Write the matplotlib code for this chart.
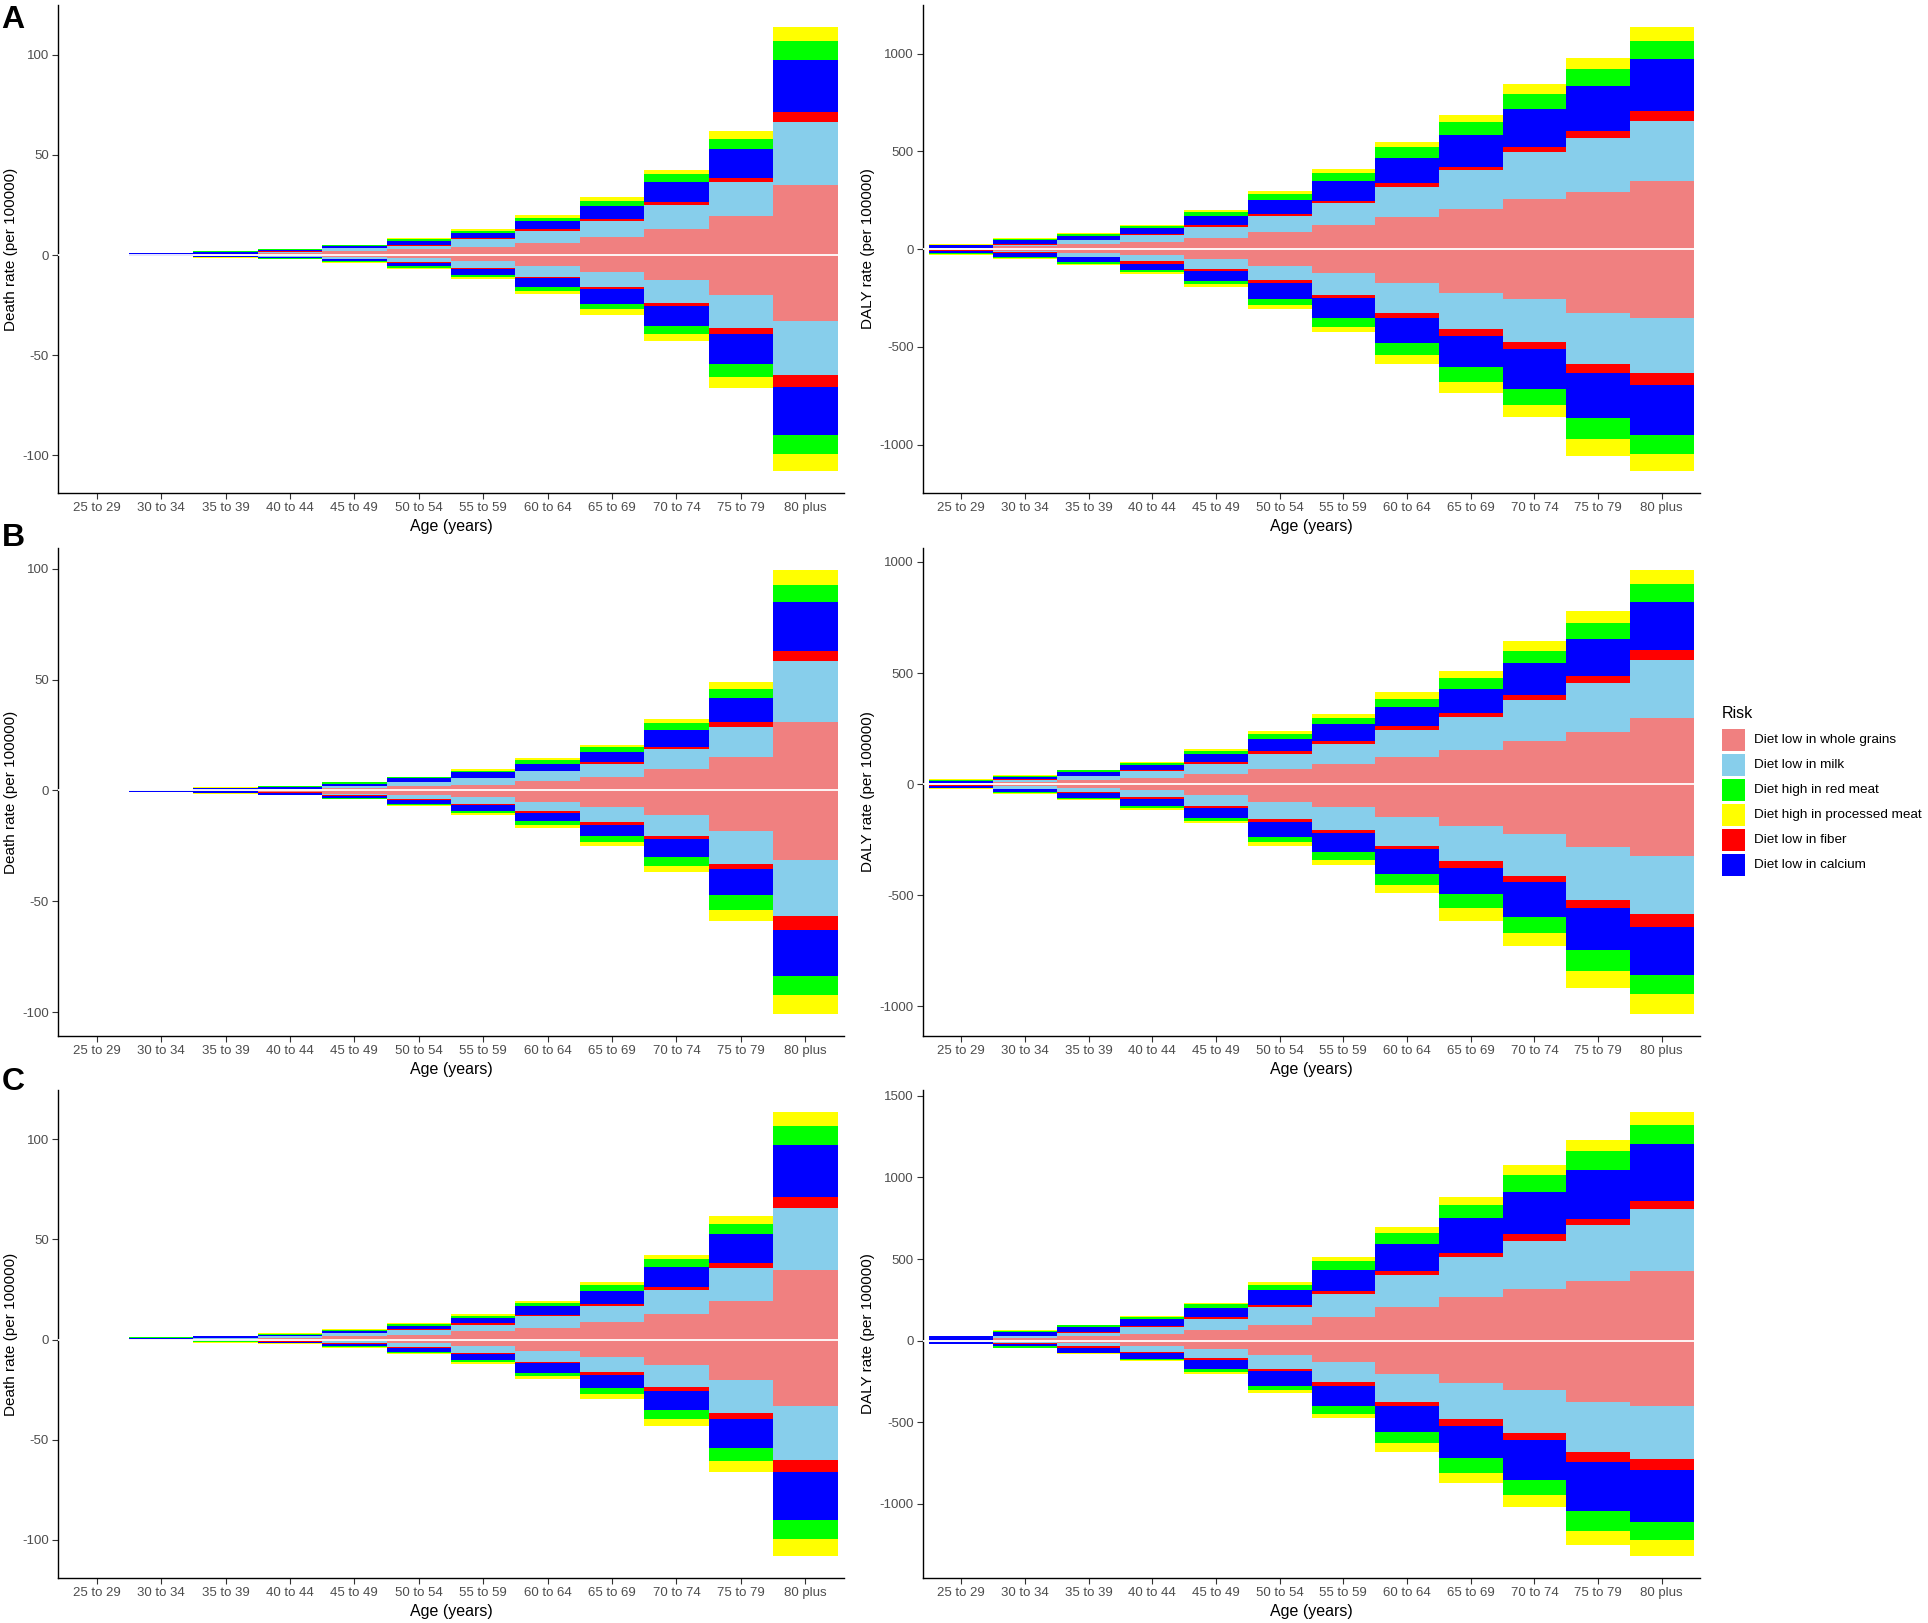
import matplotlib
matplotlib.use('Agg')
import matplotlib.pyplot as plt
from matplotlib.patches import Rectangle
import numpy as np

ages = ['25 to 29', '30 to 34', '35 to 39', '40 to 44', '45 to 49', '50 to 54',
        '55 to 59', '60 to 64', '65 to 69', '70 to 74', '75 to 79', '80 plus']

WG = 'Diet low in whole grains'
MILK = 'Diet low in milk'
FIB = 'Diet low in fiber'
CAL = 'Diet low in calcium'
RED = 'Diet high in red meat'
PROC = 'Diet high in processed meat'

# stacking order from the zero line outwards
stack_order = [WG, MILK, FIB, CAL, RED, PROC]
legend_order = [WG, MILK, RED, PROC, FIB, CAL]
colors = {WG: '#F08080', MILK: '#87CEEB', RED: '#00FF00',
          PROC: '#FFFF00', FIB: '#FF0000', CAL: '#0000FF'}

# ---- A: death rate ----
death_a_pos = {
    WG:   [0, 0.05, 0.3, 1.0, 1.9, 2.8, 4.1, 6.0, 8.8, 13.1, 19.3, 34.8],
    MILK: [0, 0.05, 0.3, 0.7, 1.4, 1.9, 3.7, 6.1, 8.1, 11.7, 17.1, 31.6],
    FIB:  [0, 0.05, 0.1, 0.1, 0.1, 0.3, 0.6, 0.7, 1.2, 1.9, 2.0, 5.2],
    CAL:  [0, 0.75, 0.9, 0.6, 0.9, 2.1, 2.6, 4.3, 6.6, 9.9, 14.5, 25.8],
    RED:  [0, 0.1, 0.2, 0.4, 0.5, 0.8, 1.1, 1.5, 2.5, 3.9, 5.2, 9.3],
    PROC: [0, 0.05, 0.1, 0.2, 0.4, 0.5, 1.0, 1.2, 1.8, 2.1, 3.8, 7.1],
}
death_a_neg = {
    WG:   [0, 0.05, 0.1, 0.4, 0.9, 1.6, 2.9, 5.3, 8.6, 12.4, 20.2, 33.1],
    MILK: [0, 0.05, 0.2, 0.5, 1.0, 2.0, 3.5, 5.6, 7.4, 11.4, 16.4, 26.9],
    FIB:  [0, 0.05, 0.1, 0.1, 0.3, 0.4, 0.7, 0.7, 1.2, 1.9, 3.1, 6.0],
    CAL:  [0, 0.35, 0.4, 0.6, 0.9, 1.7, 2.7, 4.6, 7.3, 9.6, 14.6, 24.0],
    RED:  [0, 0.05, 0.2, 0.2, 0.5, 0.9, 1.2, 1.7, 2.7, 4.4, 6.6, 9.3],
    PROC: [0, 0.05, 0.4, 0.2, 0.4, 0.5, 0.9, 1.6, 2.6, 3.1, 5.5, 8.5],
}
# ---- A: DALY rate ----
daly_a_pos = {
    WG:   [2, 14, 25, 37, 55, 87, 122, 166, 205, 256, 295, 350],
    MILK: [2, 9, 21, 34, 60, 83, 113, 154, 198, 239, 276, 304],
    FIB:  [1, 2, 3, 5, 7, 10, 14, 21, 19, 28, 33, 53],
    CAL:  [17, 21, 20, 32, 48, 73, 101, 124, 161, 193, 230, 266],
    RED:  [2, 5, 7, 10, 19, 30, 40, 56, 67, 79, 88, 90],
    PROC: [1, 4, 5, 6, 12, 16, 20, 28, 39, 50, 55, 73],
}
daly_a_neg = {
    WG:   [2, 9, 18, 32, 51, 87, 124, 175, 224, 254, 325, 352],
    MILK: [4, 7, 21, 30, 50, 70, 109, 152, 186, 223, 263, 282],
    FIB:  [1, 2, 3, 12, 9, 14, 18, 25, 32, 35, 48, 62],
    CAL:  [13, 21, 25, 32, 53, 83, 101, 129, 160, 204, 230, 253],
    RED:  [5, 5, 7, 9, 17, 32, 46, 61, 80, 83, 104, 99],
    PROC: [3, 4, 6, 10, 13, 18, 26, 45, 55, 61, 87, 86],
}

# ---- B: death rate ----
death_b_pos = {
    WG:   [0, 0.05, 0.1, 0.3, 1.1, 1.9, 2.6, 4.2, 6.2, 9.7, 15.0, 30.8],
    MILK: [0, 0.03, 0.1, 0.4, 0.9, 1.7, 2.9, 4.4, 5.9, 9.1, 13.8, 27.6],
    FIB:  [0, 0.02, 0.05, 0.1, 0.2, 0.3, 0.3, 0.4, 0.8, 1.0, 1.9, 4.4],
    CAL:  [0, 0.02, 0.95, 0.8, 0.9, 1.6, 2.3, 3.1, 4.5, 7.5, 10.9, 22.1],
    RED:  [0, 0.01, 0.1, 0.3, 0.5, 0.4, 0.8, 1.5, 2.1, 3.1, 4.4, 7.8],
    PROC: [0, 0.01, 0.1, 0.1, 0.3, 0.3, 0.8, 0.9, 1.2, 1.7, 2.9, 6.7],
}
death_b_neg = {
    WG:   [0, 0.02, 0.1, 0.5, 1.4, 2.2, 3.1, 5.3, 7.5, 11.2, 18.2, 31.5],
    MILK: [0, 0.02, 0.2, 0.4, 0.8, 1.8, 3.0, 4.0, 6.8, 9.5, 14.8, 25.2],
    FIB:  [0, 0.01, 0.05, 0.1, 0.1, 0.2, 0.6, 0.8, 1.1, 1.4, 2.4, 6.4],
    CAL:  [0, 0.75, 0.85, 0.9, 1.1, 2.0, 2.5, 3.8, 5.0, 8.1, 12.0, 20.5],
    RED:  [0, 0.02, 0.1, 0.2, 0.3, 0.3, 0.9, 1.8, 2.8, 3.9, 6.5, 8.9],
    PROC: [0, 0.03, 0.1, 0.1, 0.3, 0.5, 0.8, 1.1, 1.9, 2.8, 4.8, 8.3],
}
# ---- B: DALY rate ----
daly_b_pos = {
    WG:   [2, 8, 19, 28, 48, 70, 92, 121, 155, 196, 233, 298],
    MILK: [2, 12, 17, 31, 45, 68, 90, 123, 148, 182, 221, 261],
    FIB:  [1, 3, 3, 5, 5, 11, 14, 16, 17, 23, 31, 45],
    CAL:  [8, 10, 18, 23, 39, 56, 73, 88, 110, 143, 169, 217],
    RED:  [7, 4, 5, 8, 12, 20, 29, 37, 49, 57, 70, 79],
    PROC: [2, 5, 3, 4, 8, 14, 19, 30, 29, 45, 55, 63],
}
daly_b_neg = {
    WG:   [2, 9, 16, 28, 47, 81, 103, 148, 186, 222, 284, 323],
    MILK: [3, 11, 18, 31, 51, 74, 101, 129, 161, 190, 237, 260],
    FIB:  [1, 3, 5, 8, 11, 13, 17, 15, 28, 28, 38, 59],
    CAL:  [11, 13, 23, 31, 42, 68, 82, 110, 119, 158, 187, 216],
    RED:  [2, 4, 3, 9, 15, 24, 36, 50, 65, 73, 93, 87],
    PROC: [1, 5, 5, 10, 10, 18, 23, 38, 55, 59, 78, 88],
}

# ---- C: death rate ----
death_c_pos = {
    WG:   [0, 0.05, 0.3, 1.0, 1.7, 2.4, 4.2, 5.9, 8.7, 12.8, 19.0, 34.5],
    MILK: [0, 0.05, 0.3, 0.7, 1.5, 2.3, 3.2, 5.7, 7.9, 11.8, 16.8, 31.3],
    FIB:  [0, 0.05, 0.1, 0.1, 0.2, 0.3, 0.6, 0.7, 1.1, 1.5, 2.5, 5.2],
    CAL:  [0, 0.85, 1.0, 0.6, 0.8, 1.9, 2.7, 4.3, 6.7, 10.1, 14.2, 26.0],
    RED:  [0, 0.05, 0.2, 0.5, 0.6, 0.7, 0.9, 1.4, 2.6, 3.8, 5.3, 9.3],
    PROC: [0, 0.05, 0.1, 0.2, 0.4, 0.5, 1.2, 1.4, 1.7, 2.3, 3.8, 7.1],
}
death_c_neg = {
    WG:   [0, 0.02, 0.1, 0.4, 0.9, 1.7, 3.3, 5.7, 8.8, 12.6, 20.1, 33.1],
    MILK: [0, 0.02, 0.2, 0.5, 1.0, 2.1, 3.3, 5.4, 7.3, 11.1, 16.8, 27.2],
    FIB:  [0, 0.01, 0.1, 0.1, 0.3, 0.4, 0.5, 0.5, 1.4, 1.9, 2.6, 6.0],
    CAL:  [0, 0.05, 0.5, 0.6, 1.1, 1.9, 2.9, 4.9, 6.9, 9.6, 14.7, 23.9],
    RED:  [0, 0.02, 0.2, 0.2, 0.5, 0.8, 1.3, 1.7, 2.8, 4.3, 6.6, 9.4],
    PROC: [0, 0.03, 0.4, 0.2, 0.4, 0.4, 0.8, 1.5, 2.6, 3.4, 5.2, 8.3],
}
# ---- C: DALY rate ----
daly_c_pos = {
    WG:   [2, 15, 28, 43, 68, 98, 145, 206, 266, 319, 366, 426],
    MILK: [3, 11, 21, 40, 62, 106, 142, 194, 245, 294, 340, 378],
    FIB:  [1, 2, 6, 6, 13, 13, 19, 26, 27, 40, 39, 53],
    CAL:  [20, 23, 30, 43, 57, 92, 126, 165, 211, 258, 302, 349],
    RED:  [2, 9, 9, 11, 23, 29, 53, 69, 85, 104, 113, 113],
    PROC: [2, 4, 4, 6, 7, 19, 26, 38, 45, 59, 68, 81],
}
daly_c_neg = {
    WG:   [2, 9, 17, 30, 53, 87, 132, 202, 262, 300, 377, 400],
    MILK: [4, 8, 19, 38, 53, 87, 123, 177, 217, 264, 308, 323],
    FIB:  [2, 2, 7, 9, 11, 13, 26, 21, 42, 45, 60, 71],
    CAL:  [10, 17, 31, 36, 57, 90, 119, 160, 198, 246, 298, 319],
    RED:  [1, 7, 5, 8, 17, 25, 51, 68, 90, 92, 121, 110],
    PROC: [1, 4, 6, 7, 11, 19, 21, 53, 63, 70, 87, 96],
}

death_ticks = [-100, -50, 0, 50, 100]
daly_ticks_ab = [-1000, -500, 0, 500, 1000]
daly_ticks_c = [-1000, -500, 0, 500, 1000, 1500]

plt.rcParams['font.family'] = ['Liberation Sans', 'DejaVu Sans']
plt.rcParams['axes.unicode_minus'] = False

W, H = 1928, 1623
fig = plt.figure(figsize=(W / 100, H / 100), dpi=100)

col_x = [(58, 844), (923, 1700)]
ylab_px = [11, 868]
row_y = [(5, 493), (548, 1036), (1090, 1578)]
letter_y = [20, 538, 1082]


def draw(ax, pos, neg, ylabel, yticks, ylab_x):
	x = np.arange(len(ages))
	up = np.zeros(len(ages))
	down = np.zeros(len(ages))
	for r in stack_order:
		v = np.array(pos[r], dtype=float)
		ax.bar(x, v, 1.0, bottom=up, color=colors[r], linewidth=0, label=r)
		up += v
		w = np.array(neg[r], dtype=float)
		ax.bar(x, -w, 1.0, bottom=-down, color=colors[r], linewidth=0)
		down += w
	ax.axhline(0, color='white', linewidth=1.3, zorder=3)
	lo, hi = -down.max(), up.max()
	pad = (hi - lo) * 0.05
	ax.set_ylim(lo - pad, hi + pad)
	ax.set_xlim(-0.6, len(ages) - 0.4)
	ax.set_xticks(x)
	ax.set_xticklabels(ages, fontsize=9.5, color='#4D4D4D')
	ax.set_yticks(yticks)
	ax.set_yticklabels([str(t) for t in yticks], fontsize=9.5, color='#4D4D4D')
	ax.tick_params(length=4, width=0.8, color='#333333', pad=2.5)
	for s in ['top', 'right']:
		ax.spines[s].set_visible(False)
	for s in ['left', 'bottom']:
		ax.spines[s].set_linewidth(1.0)
	ax.set_xlabel('Age (years)', fontsize=11.5, va='center')
	ax.xaxis.set_label_coords(0.5, -0.068)
	ax.set_ylabel(ylabel, fontsize=11, va='center')
	ax.yaxis.set_label_coords(ylab_x, 0.5)


panels = [
	('A', death_a_pos, death_a_neg, daly_a_pos, daly_a_neg, daly_ticks_ab),
	('B', death_b_pos, death_b_neg, daly_b_pos, daly_b_neg, daly_ticks_ab),
	('C', death_c_pos, death_c_neg, daly_c_pos, daly_c_neg, daly_ticks_c),
]

for i, (letter, dp, dn, yp, yn, dticks) in enumerate(panels):
	t, b = row_y[i]
	sides = [(dp, dn, 'Death rate (per 100000)', death_ticks),
			 (yp, yn, 'DALY rate (per 100000)', dticks)]
	for j, (pos, neg, lab, ticks) in enumerate(sides):
		l, r = col_x[j]
		ax = fig.add_axes([l / W, 1 - b / H, (r - l) / W, (b - t) / H])
		draw(ax, pos, neg, lab, ticks, (ylab_px[j] - l) / (r - l))
	fig.text(13 / W, 1 - letter_y[i] / H, letter, fontsize=23, fontweight='bold',
			 ha='center', va='center')

# legend
fig.text(1722 / W, 1 - 713 / H, 'Risk', fontsize=11.5, ha='left', va='center')
for k, name in enumerate(legend_order):
	cy = 740 + 25 * k
	fig.add_artist(Rectangle((1722 / W, 1 - (cy + 11) / H), 23 / W, 22 / H,
							 transform=fig.transFigure, facecolor=colors[name],
							 edgecolor='none'))
	fig.text(1754 / W, 1 - cy / H, name, fontsize=9.7, ha='left', va='center')

fig.savefig('out.png', dpi=100)
